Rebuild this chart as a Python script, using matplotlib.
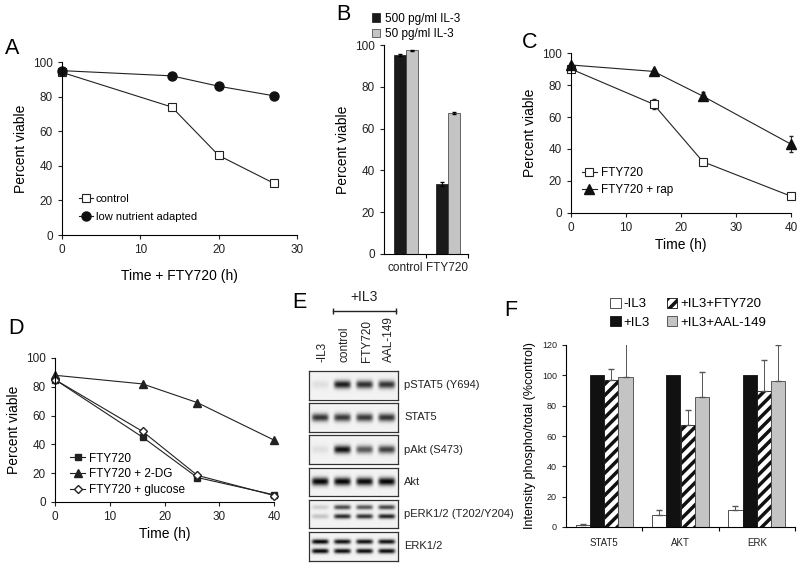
import numpy as np
import matplotlib
matplotlib.use("Agg")
import matplotlib.pyplot as plt

plt.rcParams['font.family'] = ['Liberation Sans', 'DejaVu Sans']
plt.rcParams['hatch.linewidth'] = 2.5
plt.rcParams['axes.linewidth'] = 0.8

W, H = 800, 567

# ---- data ----
# A
a_time = [0, 14, 20, 27]
a_control = [94, 74, 46, 30]
a_control_err = [1, 1, 1.5, 1]
a_lownut = [95, 92, 86, 80.5]
a_lownut_err = [1, 1, 2, 1]

# B
b_groups = ['control', 'FTY720']
b_500 = [95, 33.5]
b_500_err = [0.5, 1]
b_50 = [97.5, 67.5]
b_50_err = [0.3, 0.5]

# C
c_time = [0, 15, 24, 40]
c_fty = [90, 68, 32, 10.5]
c_fty_err = [1.5, 3, 2, 1.5]
c_rap = [92.5, 88.5, 73, 43]
c_rap_err = [1, 1, 2.5, 5]

# D
d_time = [0, 16, 26, 40]
d_fty = [85, 45, 17, 5]
d_2dg = [88, 82, 69, 43]
d_glc = [85, 49, 18.5, 4.5]

# E (band intensities per lane, 0..1)
e_lanes = ['-IL3', 'control', 'FTY720', 'AAL-149']
e_rows = ['pSTAT5 (Y694)', 'STAT5', 'pAkt (S473)', 'Akt',
          'pERK1/2 (T202/Y204)', 'ERK1/2']
e_bands = [
    [[0.08, 0.9, 0.82, 0.8]],
    [[0.8, 0.78, 0.78, 0.8]],
    [[0.08, 0.95, 0.65, 0.75]],
    [[1.0, 1.0, 0.98, 1.0]],
    [[0.15, 0.7, 0.65, 0.72], [0.2, 0.85, 0.82, 0.88]],
    [[1.0, 0.95, 0.95, 0.95], [1.0, 0.97, 0.97, 0.97]],
]
e_band_pos = [[0.5], [0.5], [0.5], [0.5], [0.28, 0.6], [0.33, 0.66]]

# F
f_groups = ['STAT5', 'AKT', 'ERK']
f_minus = [1, 8, 11]
f_minus_err = [0.7, 3, 3]
f_il3 = [100, 100, 100]
f_fty = [97, 67, 90]
f_fty_err = [7, 10, 20]
f_aal = [99, 86, 96]
f_aal_err = [22, 16, 24]

fig = plt.figure(figsize=(8, 5.67), dpi=100)


def ax_px(left, top, right, bottom):
    return fig.add_axes([left / W, 1 - bottom / H, (right - left) / W, (bottom - top) / H])


def ftext(x, y, s, **kw):
    fig.text(x / W, 1 - y / H, s, **kw)


def style(ax, fs=8.5):
    ax.spines['top'].set_visible(False)
    ax.spines['right'].set_visible(False)
    ax.tick_params(labelsize=fs, length=3, width=0.8, colors='#222222')


def series(ax, x, y, err, **kw):
    ax.errorbar(x, y, yerr=err, fmt='none', ecolor='#222222', elinewidth=0.7,
                capsize=1.5, clip_on=False)
    ax.plot(x, y, color='#222222', lw=0.8, clip_on=False, **kw)


PL = 15.5  # panel letter size

# ---- A ----
ax = ax_px(62, 62, 297, 235)
series(ax, a_time, a_control, a_control_err, marker='s', ms=6, mfc='white',
       mec='#222222', mew=0.8, label='control')
series(ax, a_time, a_lownut, a_lownut_err, marker='o', ms=6.5, mfc='#111111',
       mec='#111111', label='low nutrient adapted')
ax.set_xlim(0, 30)
ax.set_ylim(0, 100)
ax.set_xticks([0, 10, 20, 30])
ax.set_yticks(range(0, 101, 20))
ax.set_ylabel('Percent viable', fontsize=10)
ax.set_xlabel('Time + FTY720 (h)', fontsize=10, labelpad=9)
style(ax)
ax.legend(loc='lower left', bbox_to_anchor=(0.03, 0.02), frameon=False, fontsize=8,
          handlelength=1.3, handletextpad=0.2, labelspacing=0.7)
ftext(5, 48, 'A', fontsize=PL, va='center')

# ---- B ----
ax = ax_px(384, 45, 468, 254)
x = np.arange(len(b_groups))
ax.bar(x - 0.12, b_500, 0.286, yerr=b_500_err, color='#1a1a1a', edgecolor='#111111',
       lw=0.5, error_kw=dict(lw=0.7, capsize=1.5), label='500 pg/ml IL-3')
ax.bar(x + 0.166, b_50, 0.286, yerr=b_50_err, color='#c4c4c4', edgecolor='#333333',
       lw=0.5, error_kw=dict(lw=0.7, capsize=1.5), label='50 pg/ml IL-3')
ax.set_xlim(-0.5, 1.5)
ax.set_ylim(0, 100)
ax.set_yticks(range(0, 101, 20))
ax.set_xticks(x)
ax.set_xticklabels(b_groups)
ax.set_xticks([0.5, 1.5], minor=True)
ax.set_ylabel('Percent viable', fontsize=10)
style(ax)
ax.tick_params(axis='x', which='major', length=0, pad=6)
ax.tick_params(axis='x', which='minor', length=3, width=0.8)
ax.legend(loc='lower left', bbox_to_anchor=(-0.2, 1.0), frameon=False, fontsize=8.5,
          handlelength=0.7, handleheight=0.7, handletextpad=0.4, labelspacing=0.3,
          borderaxespad=0)
ftext(336, 14, 'B', fontsize=PL, va='center')

# ---- C ----
ax = ax_px(571, 53, 791, 213)
series(ax, c_time, c_fty, c_fty_err, marker='s', ms=6, mfc='white',
       mec='#222222', mew=0.8, label='FTY720')
series(ax, c_time, c_rap, c_rap_err, marker='^', ms=6.5, mfc='#111111',
       mec='#111111', label='FTY720 + rap')
ax.set_xlim(0, 40)
ax.set_ylim(0, 100)
ax.set_xticks(range(0, 41, 10))
ax.set_yticks(range(0, 101, 20))
ax.set_ylabel('Percent viable', fontsize=10)
ax.set_xlabel('Time (h)', fontsize=10, labelpad=3)
style(ax)
ax.legend(loc='lower left', bbox_to_anchor=(0.0, 0.04), frameon=False, fontsize=8.5,
          handlelength=1.3, handletextpad=0.3, labelspacing=0.4)
ftext(522, 43, 'C', fontsize=PL, va='center')

# ---- D ----
ax = ax_px(55, 358, 274, 502)
ax.plot(d_time, d_fty, marker='s', ms=4.5, color='#222222', lw=0.8, clip_on=False,
        label='FTY720')
ax.plot(d_time, d_2dg, marker='^', ms=5.5, color='#222222', lw=0.8, clip_on=False,
        label='FTY720 + 2-DG')
ax.plot(d_time, d_glc, marker='D', ms=4.5, mfc='white', mec='#222222', color='#222222',
        lw=0.8, clip_on=False, label='FTY720 + glucose')
ax.set_xlim(0, 40)
ax.set_ylim(0, 100)
ax.set_xticks(range(0, 41, 10))
ax.set_yticks(range(0, 101, 20))
ax.set_ylabel('Percent viable', fontsize=10)
ax.set_xlabel('Time (h)', fontsize=10, labelpad=3)
style(ax)
ax.legend(loc='lower left', bbox_to_anchor=(0.02, -0.03), frameon=False, fontsize=8.5,
          handlelength=1.3, handletextpad=0.3, labelspacing=0.3)
ftext(8, 328, 'D', fontsize=PL, va='center')

# ---- E ----
box_left, box_right = 309, 398
row_top, row_pitch, row_h = 371, 32.2, 28.5
nx, ny = 240, 60
xs = np.linspace(0, 1, nx)
ys = np.linspace(0, 1, ny)[:, None]
for r, name in enumerate(e_rows):
    top = row_top + r * row_pitch
    ax = ax_px(box_left, top, box_right, top + row_h)
    img = np.zeros((ny, nx))
    single = len(e_bands[r]) == 1
    for band, pos in zip(e_bands[r], e_band_pos[r]):
        for i, val in enumerate(band):
            cx = (i + 0.5) / len(band)
            hx = np.exp(-(np.abs(xs - cx) / 0.095) ** 6)
            vy = np.exp(-((ys - pos) / (0.14 if single else 0.085)) ** 2)
            img += val * hx[None, :] * vy
    img = 0.95 - 0.93 * np.clip(img, 0, 1)
    ax.imshow(img, cmap='gray', vmin=0, vmax=1, aspect='auto', extent=[0, 1, 1, 0])
    ax.set_xticks([])
    ax.set_yticks([])
    for s in ax.spines.values():
        s.set_linewidth(0.9)
        s.set_color('#333333')
    ftext(box_right + 6, top + row_h / 2, name, fontsize=8, va='center', color='#222222')

lane_w = (box_right - box_left) / len(e_lanes)
for i, lane in enumerate(e_lanes):
    ftext(box_left + (i + 0.5) * lane_w + 2, 362, lane, fontsize=8.5, rotation=90,
          ha='center', va='bottom', color='#222222')
fig.add_artist(plt.Line2D([333 / W, 396 / W], [1 - 311 / H] * 2, color='#222222', lw=1,
                          marker='|', ms=5, mew=1))
ftext(364, 297, '+IL3', fontsize=10, ha='center', va='center', color='#222222')
ftext(292, 302, 'E', fontsize=PL, va='center')

# ---- F ----
ax = ax_px(566, 345, 795, 527)
x = np.arange(len(f_groups))
bw = 0.186
ekw = dict(lw=0.7, capsize=2, ecolor='#555555')
up = lambda e: [np.zeros(len(e)), e]
ax.bar(x - 0.28, f_minus, bw, yerr=up(f_minus_err), color='white', edgecolor='#333333',
       lw=0.6, error_kw=ekw, label='-IL3')
ax.bar(x - 0.093, f_il3, bw, color='#111111', edgecolor='#111111', lw=0.6, label='+IL3')
ax.bar(x + 0.093, f_fty, bw, yerr=up(f_fty_err), color='white', edgecolor='#111111',
       hatch='///', lw=0.6, error_kw=ekw, label='+IL3+FTY720')
ax.bar(x + 0.28, f_aal, bw, yerr=up(f_aal_err), color='#c4c4c4', edgecolor='#444444',
       lw=0.6, error_kw=ekw, label='+IL3+AAL-149')
ax.set_xlim(-0.5, 2.5)
ax.set_ylim(0, 120)
ax.set_yticks(range(0, 121, 20))
ax.set_xticks(x)
ax.set_xticklabels(f_groups)
ax.set_xticks([0.5, 1.5, 2.5], minor=True)
ax.set_ylabel('Intensity phospho/total (%control)', fontsize=9)
style(ax, fs=6.5)
ax.tick_params(axis='x', which='major', length=0, pad=8, labelsize=7)
ax.tick_params(axis='x', which='minor', length=3, width=0.8)
ax.legend(ncol=2, loc='lower left', bbox_to_anchor=(0.17, 1.06), frameon=False,
          fontsize=9.5, handlelength=0.8, handleheight=0.8, handletextpad=0.2,
          columnspacing=1.3, labelspacing=0.45, borderaxespad=0)
ftext(504, 310, 'F', fontsize=PL, va='center')

fig.savefig('out.png', dpi=100)
